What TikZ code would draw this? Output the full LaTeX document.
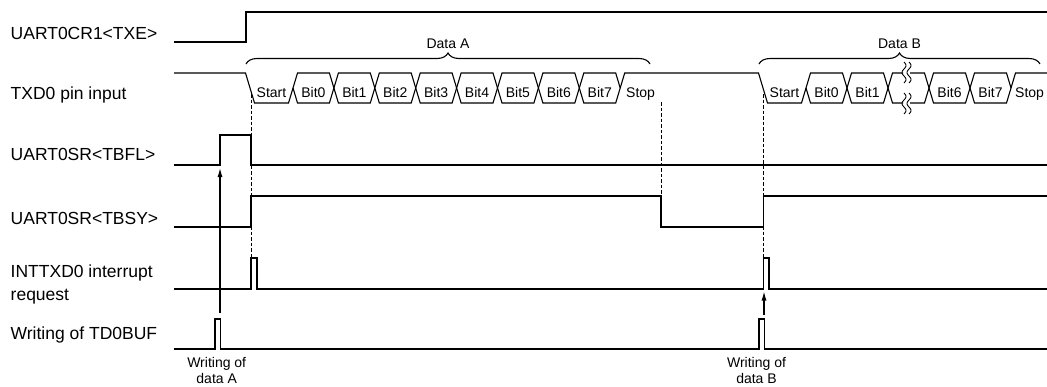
\documentclass[tikz,border=0pt]{standalone}
\usepackage{fontspec}
\setmainfont{Liberation Sans}
\usepackage{tikz}
\usetikzlibrary{arrows.meta}
\usetikzlibrary{decorations.pathreplacing}

\begin{document}
\begin{tikzpicture}[x=1pt, y=-1pt, >={Latex[length=9pt,width=5pt]},
  sig/.style={line width=1.1pt},
  guide/.style={line width=0.9pt, dash pattern=on 3.5pt off 2pt},
  brk/.style={line width=0.9pt},
  lbl/.style={anchor=base west, inner sep=0pt, font=\fontsize{17.5}{20}\selectfont},
  small/.style={anchor=base, inner sep=0pt, font=\fontsize{14}{16.5}\selectfont},
  databrace/.style={decorate, decoration={brace, amplitude=11pt}, line width=1.1pt}]
  \useasboundingbox (0,0) rectangle (1047,386);

  % ===== Signal names =====
  \node[lbl] (txe)  at (10.5,39.5)  {UART0CR1<TXE>};
  \node[lbl] (txd)  at (10.5,99)    {TXD0 pin input};
  \node[lbl] (tbfl) at (10.5,160)   {UART0SR<TBFL>};
  \node[lbl] (tbsy) at (10.5,224)   {UART0SR<TBSY>};
  \node[lbl] (int)  at (10.5,277.3) {INTTXD0 interrupt};
  \node[lbl] (req)  at (10.5,300.7) {request};
  \node[lbl] (buf)  at (10.5,339)   {Writing of TD0BUF};

  % UART0CR1<TXE>
  \draw[sig] (174,42) -- (246,42) -- (246,12) -- (1047,12);

  % ===== TXD0: data A =====
  \draw[sig] (174,73) -- (245.5,73) -- (254.5,103) -- (288.5,103) -- (293,88);
  \node[small] (startA) at (271.5,97) {Start};
  \foreach \k in {0,...,7} {
    \pgfmathsetmacro\xa{293+40.9*\k}
    \pgfmathsetmacro\xb{\xa+40.9}
    \draw[sig] (\xa,88) -- (\xa+4.5,73) -- (\xb-4.5,73) -- (\xb,88) -- (\xb-4.5,103) -- (\xa+4.5,103) -- cycle;
    \node[small] (bitA\k) at ({(\xa+\xb)/2},97) {Bit\k};
  }
  \draw[sig] (620.2,88) -- (624.7,73) -- (758.5,73) -- (767.5,103) -- (801.5,103) -- (806,88);
  \node[small, anchor=base west] (stopA) at (626,97) {Stop};
  \draw[databrace] (246,64) -- (650,64);
  \node[small] (dataA) at (448,48) {Data A};

  % ===== TXD0: data B =====
  \node[small] (startB) at (784.5,97) {Start};
  \foreach \k/\t in {0/Bit0,1/Bit1,3/Bit6,4/Bit7} {
    \pgfmathsetmacro\xa{806+41*\k}
    \pgfmathsetmacro\xb{\xa+41}
    \draw[sig] (\xa,88) -- (\xa+4.5,73) -- (\xb-4.5,73) -- (\xb,88) -- (\xb-4.5,103) -- (\xa+4.5,103) -- cycle;
    \node[small] (bitB\k) at ({(\xa+\xb)/2},97) {\t};
  }
  % skipped bits
  \draw[sig] (903,73) -- (892.5,73) -- (888,88) -- (892.5,103) -- (903,103);
  \draw[sig] (910,73) -- (924.5,73) -- (929,88) -- (924.5,103) -- (910,103);
  \foreach \dx in {0,5}
    \foreach \y in {62,93}
      \draw[brk] plot[domain=0:1, samples=30, smooth] ({904+\dx+2*sin(540*\x)},{\y+21*\x});
  \draw[sig] (1011,88) -- (1015.5,73) -- (1047,73);
  \node[small, anchor=base west] (stopB) at (1015,97) {Stop};
  \draw[databrace] (759,64) -- (1040,64);
  \node[small] (dataB) at (899.5,48) {Data B};

  % ===== Status flags =====
  \draw[sig] (174,165) -- (220,165) -- (220,135) -- (251,135) -- (251,165) -- (1047,165);
  \draw[sig] (174,227) -- (251,227) -- (251,196) -- (661,196) -- (661,227) -- (763.5,227) -- (763.5,196) -- (1047,196);
  \draw[sig] (174,289) -- (251,289) -- (251,258) -- (257,258) -- (257,289) -- (763.5,289) -- (763.5,258) -- (769,258) -- (769,289) -- (1047,289);
  \draw[sig] (174,349) -- (215,349) -- (215,319) -- (220.5,319) -- (220.5,349) -- (759,349) -- (759,319) -- (764.5,319) -- (764.5,349) -- (1047,349);

  % dashed guides
  \draw[guide] (251,94) -- (251,258);
  \draw[guide] (661,102) -- (661,227);
  \draw[guide] (763.5,94) -- (763.5,258);

  % writes to the buffer
  \coordinate (wrA) at (220,313);
  \coordinate (flagA) at (220,168);
  \coordinate (wrB) at (764,315);
  \coordinate (intB) at (764,291.5);
  \draw[sig, ->] (wrA) -- (flagA);
  \draw[sig, ->] (wrB) -- (intB);

  \node[small, align=center, anchor=north] (noteA) at (216.7,357) {Writing of\\data A};
  \node[small, align=center, anchor=north] (noteB) at (756.5,357) {Writing of\\data B};
\end{tikzpicture}
\end{document}
